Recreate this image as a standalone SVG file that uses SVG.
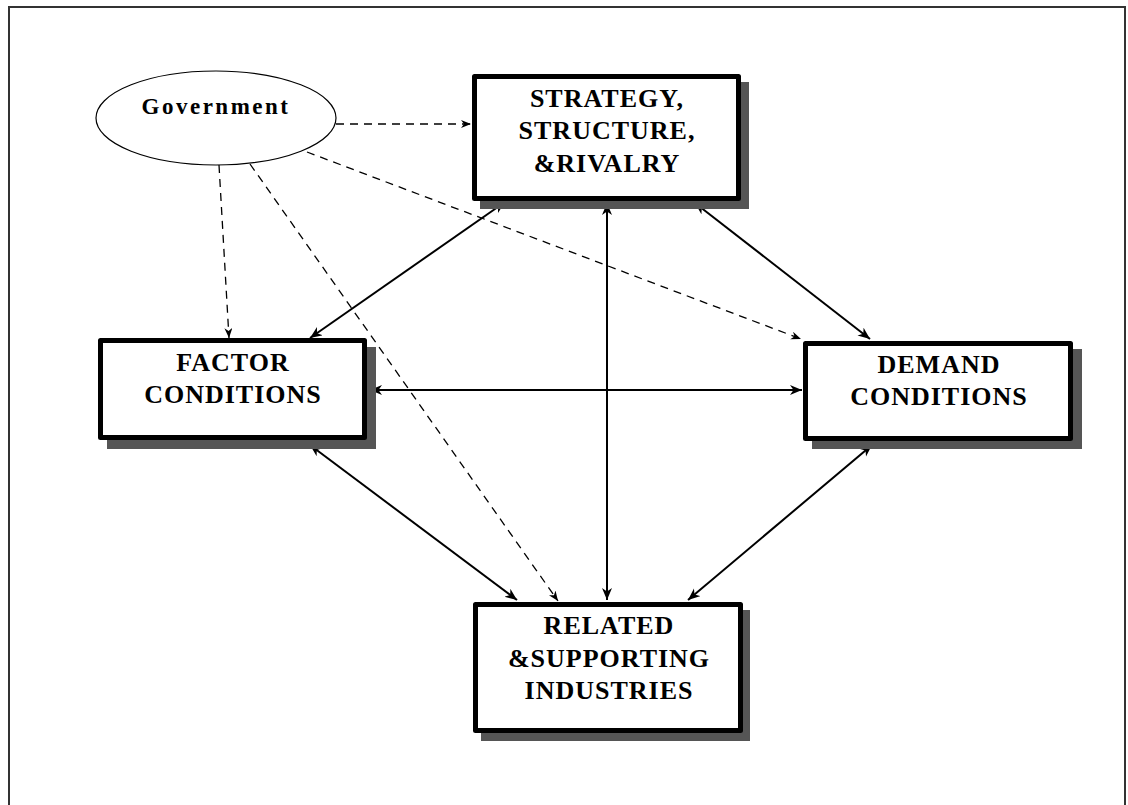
<svg xmlns="http://www.w3.org/2000/svg" width="1128" height="805" viewBox="0 0 1128 805">
<defs>
<style>
.box{fill:#fff;stroke:#000;stroke-width:5;stroke-linejoin:round}
.shadow{fill:#555}
.lbl{font-family:"Liberation Serif","Times New Roman",serif;font-weight:bold;font-size:26px;letter-spacing:1px;text-anchor:middle;fill:#000}
.gov{font-family:"Liberation Serif","Times New Roman",serif;font-weight:bold;font-size:23px;letter-spacing:2.5px;text-anchor:middle;fill:#000}
.solid{stroke:#000;stroke-width:2;fill:none;marker-start:url(#hs);marker-end:url(#he)}
.dash{stroke:#000;stroke-width:1.3;fill:none;stroke-dasharray:8 6;marker-end:url(#hd)}
</style>
<marker id="he" markerUnits="userSpaceOnUse" markerWidth="14" markerHeight="12" refX="12" refY="5" orient="auto"><path d="M0,0 L12,5 L0,10 L3.5,5 z" fill="#000"/></marker>
<marker id="hs" markerUnits="userSpaceOnUse" markerWidth="14" markerHeight="12" refX="12" refY="5" orient="auto-start-reverse"><path d="M0,0 L12,5 L0,10 L3.5,5 z" fill="#000"/></marker>
<marker id="hd" markerUnits="userSpaceOnUse" markerWidth="12" markerHeight="10" refX="10" refY="4" orient="auto"><path d="M0,0 L10,4 L0,8 L3,4 z" fill="#000"/></marker>
</defs>
<rect x="0" y="0" width="1128" height="805" fill="#fff"/>
<rect x="9" y="7" width="1116" height="820" fill="none" stroke="#333" stroke-width="2"/>

<g id="connectors">
<line class="solid" x1="310" y1="338" x2="505" y2="202"/>
<line class="solid" x1="607" y1="203" x2="607" y2="600"/>
<line class="solid" x1="695" y1="203" x2="870" y2="339"/>
<line class="solid" x1="370" y1="390" x2="802" y2="390"/>
<line class="solid" x1="310" y1="445" x2="517" y2="600"/>
<line class="solid" x1="872" y1="445" x2="688" y2="600"/>
<line class="dash" x1="336" y1="124" x2="471" y2="124"/>
<line class="dash" x1="219" y1="165" x2="229" y2="338"/>
<line class="dash" x1="250" y1="164" x2="558" y2="601"/>
<line class="dash" x1="307" y1="152" x2="801" y2="339"/>
</g>

<g id="government">
<ellipse cx="216" cy="118" rx="120" ry="47" fill="#fff" stroke="#000" stroke-width="1.2"/>
<text class="gov" x="216" y="114">Government</text>
</g>

<g id="strategy">
<rect class="shadow" x="480" y="82" width="269" height="127"/>
<rect class="box" x="474.5" y="76.5" width="264" height="122"/>
<text class="lbl" x="607" y="107">STRATEGY,</text>
<text class="lbl" x="607" y="139">STRUCTURE,</text>
<text class="lbl" x="607" y="172">&amp;RIVALRY</text>
</g>

<g id="factor">
<rect class="shadow" x="107" y="347" width="269" height="102"/>
<rect class="box" x="100.5" y="340.5" width="264" height="97"/>
<text class="lbl" x="233" y="371">FACTOR</text>
<text class="lbl" x="233" y="403">CONDITIONS</text>
</g>

<g id="demand">
<rect class="shadow" x="812" y="349" width="270" height="100"/>
<rect class="box" x="805.5" y="343.5" width="265" height="95"/>
<text class="lbl" x="939" y="373">DEMAND</text>
<text class="lbl" x="939" y="405">CONDITIONS</text>
</g>

<g id="related">
<rect class="shadow" x="481" y="610" width="269" height="131"/>
<rect class="box" x="475.5" y="604.5" width="265" height="126"/>
<text class="lbl" x="609" y="634">RELATED</text>
<text class="lbl" x="609" y="667">&amp;SUPPORTING</text>
<text class="lbl" x="609" y="699">INDUSTRIES</text>
</g>
</svg>
